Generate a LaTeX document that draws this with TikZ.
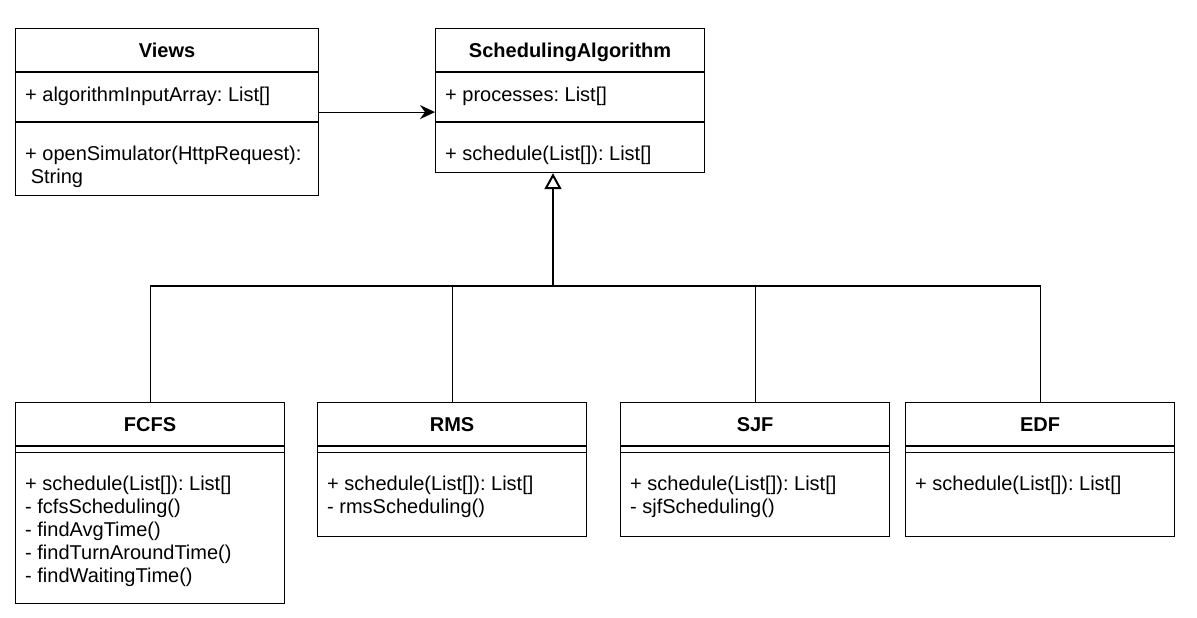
\documentclass[tikz,border=0pt]{standalone}
\usepackage{fontspec}
\setmainfont{Liberation Sans}
\usetikzlibrary{arrows.meta,calc,positioning}
\frenchspacing

\tikzset{
  classbox/.style={draw, line width=1.2pt, anchor=north west, minimum width=269pt, inner sep=0pt},
  classname/.style={anchor=base, inner sep=0pt, font=\fontsize{20}{24}\selectfont\bfseries},
  member/.style={anchor=base west, inner sep=0pt, font=\fontsize{20}{24}\selectfont},
  sep/.style={line width=1.2pt},
  assoc/.style={line width=1.2pt, -{Stealth[length=15pt,width=14pt,inset=5pt]}},
  inherit/.style={line width=2pt, -{Triangle[open,length=16pt,width=17pt]}},
  branch/.style={line width=1.2pt},
}

\begin{document}
\begin{tikzpicture}[x=1pt,y=-1pt]
    \useasboundingbox (0,0) rectangle (1197,618);
    % top classes
    \node[classbox, minimum width=303pt, minimum height=167pt] (views) at (15,28) {};
    \node[classname] (views-name) at ($(views.north)+(0,29.5)$) {Views};
    \draw[sep] ($(views.north west)+(0,44)$) -- ($(views.north east)+(0,44)$);
    \draw[sep] ($(views.north west)+(0,94)$) -- ($(views.north east)+(0,94)$);
    \node[member] (views-attr) at ($(views.north west)+(10,73.7)$) {+ algorithmInputArray: List[]};
    \node[member] (views-op1) at ($(views.north west)+(10,132.5)$) {+ openSimulator(HttpRequest):};
    \node[member] (views-op2) at ($(views.north west)+(10,155.5)$) {~String};

    \node[classbox, minimum height=144pt] (sa) at (435,28) {};
    \node[classname] (sa-name) at ($(sa.north)+(0,29.5)$) {SchedulingAlgorithm};
    \draw[sep] ($(sa.north west)+(0,44)$) -- ($(sa.north east)+(0,44)$);
    \draw[sep] ($(sa.north west)+(0,94)$) -- ($(sa.north east)+(0,94)$);
    \node[member] (sa-attr) at ($(sa.north west)+(10,73.7)$) {+ processes: List[]};
    \node[member] (sa-op1) at ($(sa.north west)+(10,132.5)$) {+ schedule(List[]): List[]};

    % subclasses
    \foreach \cname/\cx/\ch/\ctitle in {fcfs/15/201/FCFS, rms/317/134/RMS, sjf/620/134/SJF, edf/905/134/EDF} {
        \node[classbox, minimum height=\ch pt] (\cname) at (\cx,402) {};
        \node[classname] (\cname-name) at ($(\cname.north)+(0,29.5)$) {\ctitle};
        \draw[sep] ($(\cname.north west)+(0,44)$) -- ($(\cname.north east)+(0,44)$);
        \draw[sep] ($(\cname.north west)+(0,50.5)$) -- ($(\cname.north east)+(0,50.5)$);
    }
    \foreach \op [count=\i] in {+ schedule(List[]): List[], - fcfsScheduling(), - findAvgTime(), - findTurnAroundTime(), - findWaitingTime()}
        \node[member] (fcfs-op\i) at ($(fcfs.north west)+(10,64.9+23.1*\i)$) {\op};
    \foreach \op [count=\i] in {+ schedule(List[]): List[], - rmsScheduling()}
        \node[member] (rms-op\i) at ($(rms.north west)+(10,64.9+23.1*\i)$) {\op};
    \foreach \op [count=\i] in {+ schedule(List[]): List[], - sjfScheduling()}
        \node[member] (sjf-op\i) at ($(sjf.north west)+(10,64.9+23.1*\i)$) {\op};
    \node[member] (edf-op1) at ($(edf.north west)+(10,88)$) {+ schedule(List[]): List[]};

    % connectors
    \draw[assoc] (views.east) -- (views.east -| sa.west);
    \coordinate (bus) at (553,286);
    \draw[inherit] (bus) -- (bus |- sa.south);
    \foreach \cname in {fcfs,rms,sjf,edf}
        \draw[branch] (\cname.north) |- (bus);
\end{tikzpicture}
\end{document}
